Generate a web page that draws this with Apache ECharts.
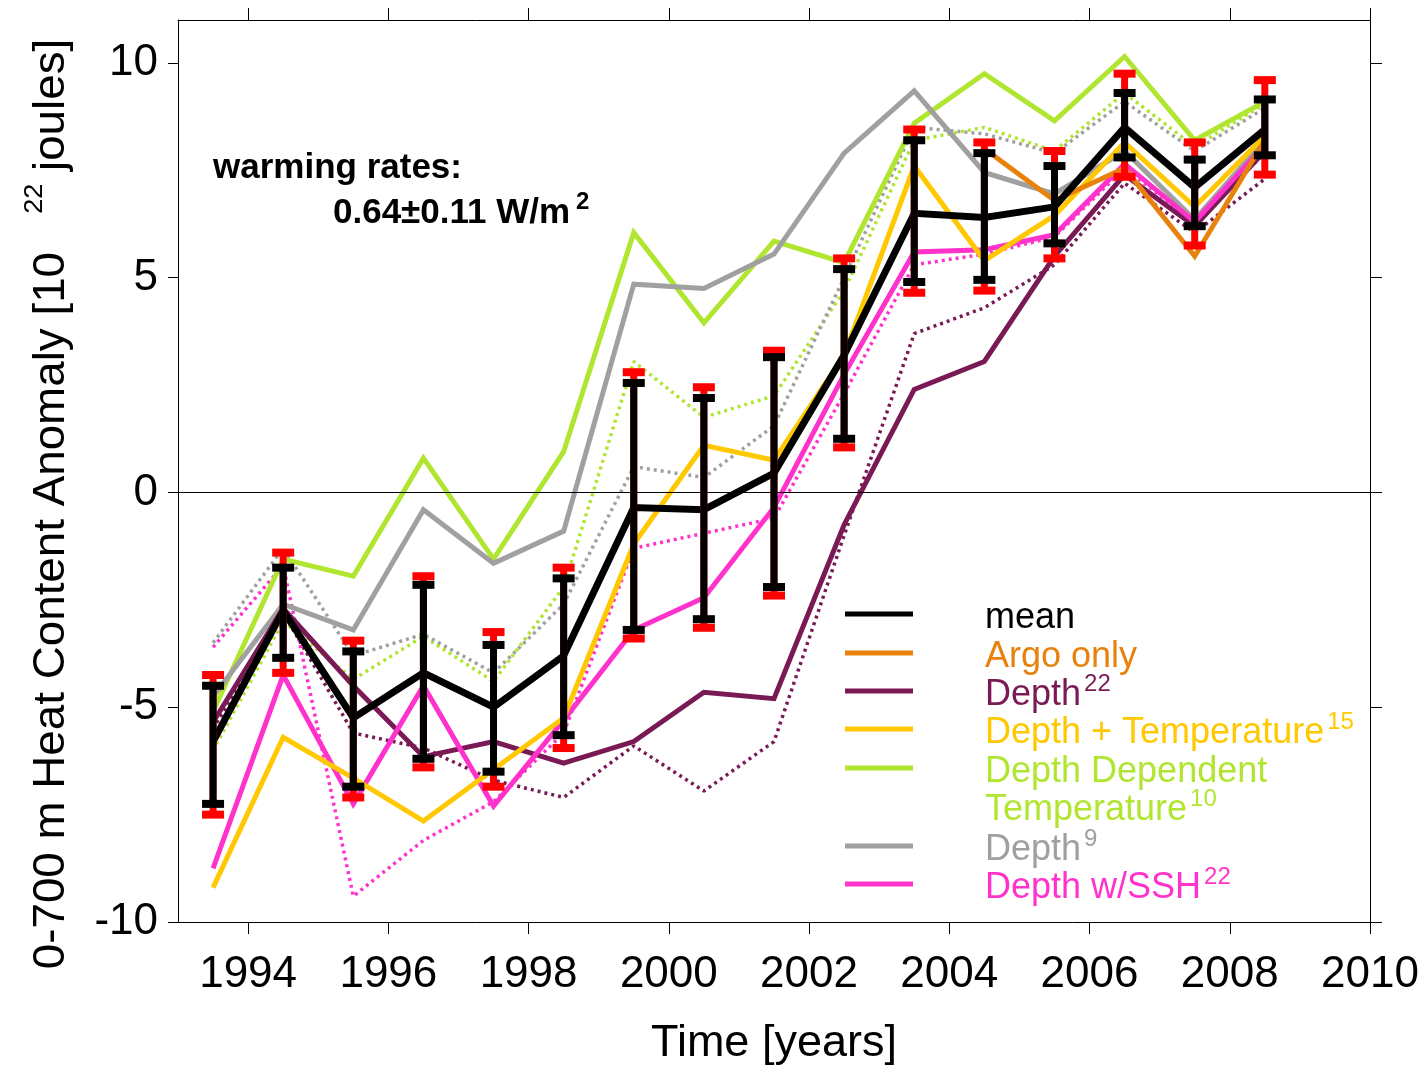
<!DOCTYPE html>
<html><head><meta charset="utf-8">
<script src="https://cdn.jsdelivr.net/npm/echarts@6/dist/echarts.min.js"></script>
<style>html,body{margin:0;padding:0;background:#fff}#c{width:1426px;height:1071px}</style>
</head><body><div id="c"></div>
<script>
// ---------- data ----------
const years = [1993.5,1994.5,1995.5,1996.5,1997.5,1998.5,1999.5,2000.5,2001.5,2002.5,2003.5,2004.5,2005.5,2006.5,2007.5,2008.5];
const xTicks = [1994,1996,1998,2000,2002,2004,2006,2008,2010];
const yTicks = [-10,-5,0,5,10];

const meanVals   = [-5.8,-2.75,-5.25,-4.2,-5.0,-3.8,-0.35,-0.4,0.45,3.2,6.5,6.4,6.65,8.5,7.1,8.45];
const errLowBlack  = [-7.25,-3.85,-6.85,-6.2,-6.5,-5.65,-3.2,-2.95,-2.2,1.25,4.9,4.95,5.8,7.8,6.2,7.85];
const errHighBlack = [-4.5,-1.75,-3.7,-2.15,-3.55,-2.0,2.55,2.2,3.15,5.2,8.2,7.9,7.6,9.3,7.75,9.15];
const errLowRed    = [-7.5,-4.2,-7.1,-6.4,-6.85,-5.95,-3.4,-3.15,-2.4,1.05,4.65,4.7,5.45,7.35,5.75,7.4];
const errHighRed   = [-4.25,-1.4,-3.45,-1.95,-3.25,-1.75,2.8,2.45,3.3,5.45,8.45,8.15,7.95,9.75,8.15,9.6];

const argoOnly   = [null,null,null,null,null,null,null,null,null,null,null,8.0,6.8,7.55,5.5,8.2];
const depth22    = [-5.35,-2.7,-4.5,-6.15,-5.8,-6.3,-5.8,-4.65,-4.8,-0.75,2.4,3.05,5.5,7.4,6.2,7.95];
const depthTemp15= [-9.2,-5.7,-6.65,-7.65,-6.45,-5.25,-1.2,1.1,0.75,3.2,7.6,5.4,6.45,8.15,6.65,8.3];
const ddt10      = [-5.1,-1.55,-1.95,0.8,-1.55,0.95,6.05,3.95,5.85,5.35,8.6,9.75,8.65,10.15,8.2,9.1];
const depth9     = [-4.75,-2.6,-3.2,-0.4,-1.65,-0.9,4.85,4.75,5.55,7.9,9.35,7.45,6.95,7.95,6.35,8.2];
const ssh22      = [-8.75,-4.25,-7.25,-4.5,-7.3,-5.3,-3.2,-2.45,-0.35,2.75,5.6,5.65,6.0,7.65,6.3,8.1];

// dotted companions
const ddt10Dot   = [-6.0,-3.0,-4.35,-3.35,-4.4,-2.2,3.05,1.75,2.25,4.7,8.2,8.5,7.95,9.3,8.05,9.05];
const depth9Dot  = [-3.5,-1.3,-3.8,-3.3,-4.2,-2.6,0.6,0.35,1.55,5.0,8.5,8.35,7.9,9.1,7.95,8.95];
const depth22Dot = [-5.5,-2.8,-5.6,-5.95,-6.7,-7.1,-5.9,-6.95,-5.8,-1.0,3.7,4.3,5.3,7.2,6.05,7.3];
const ssh22Dot   = [-3.6,-1.7,-9.4,-8.1,-7.2,-5.6,-1.3,-0.95,-0.6,2.3,5.3,5.55,5.95,7.55,6.3,7.9];

// ---------- styles ----------
const C = {
  mean:'#000000', argo:'#E8820C', d22:'#7A1A55', dt:'#FFC800',
  ddt:'#B0E530', d9:'#A0A0A0', ssh:'#FF33CC'
};
const FONT = 'Liberation Sans';

const pairs = arr => years.map((x,i)=>[x, arr[i]]);
function solid(name, arr, color, width, z){
  return {type:'line', name, data:pairs(arr), showSymbol:false, symbol:'none', connectNulls:false,
    lineStyle:{color, width, cap:'butt', join:'miter'}, itemStyle:{color}, z, silent:true};
}
function dotted(name, arr, color, z){
  return {type:'line', name, data:pairs(arr), showSymbol:false, symbol:'none',
    lineStyle:{color, width:3.5, type:[3,4], cap:'butt'}, itemStyle:{color}, z, silent:true};
}
function errBars(name, lo, hi, color, z){
  return {
    type:'custom', name, z, silent:true,
    data: years.map((x,i)=>[x, lo[i], hi[i]]),
    renderItem(params, api){
      const x = api.value(0);
      const pL = api.coord([x, api.value(1)]);
      const pH = api.coord([x, api.value(2)]);
      const w = 22, h = 8;
      return {type:'group', children:[
        {type:'line', shape:{x1:pH[0], y1:pH[1], x2:pL[0], y2:pL[1]}, style:{stroke:color, lineWidth:7}},
        {type:'rect', shape:{x:pH[0]-w/2, y:pH[1]-h/2, width:w, height:h}, style:{fill:color}},
        {type:'rect', shape:{x:pL[0]-w/2, y:pL[1]-h/2, width:w, height:h}, style:{fill:color}}
      ]};
    }
  };
}

const axisLineStyle = {color:'#000', width:1};

const legendRows = [
  {y:614, color:C.mean, text:'{a|mean}', line:true},
  {y:653, color:C.argo, text:'{a|Argo only}', line:true},
  {y:691, color:C.d22, text:'{a|Depth}{s|22}', line:true},
  {y:729, color:C.dt, text:'{a|Depth + Temperature}{s|15}', line:true},
  {y:768, color:C.ddt, text:'{a|Depth Dependent}', line:true},
  {y:806, color:C.ddt, text:'{a|Temperature}{s|10}', line:false},
  {y:846, color:C.d9, text:'{a|Depth}{s|9}', line:true},
  {y:884, color:C.ssh, text:'{a|Depth w/SSH}{s|22}', line:true}
];
const legendRich = {
  a:{fontSize:36, fontFamily:FONT, lineHeight:46},
  s:{fontSize:24, fontFamily:FONT, lineHeight:24, verticalAlign:'top', padding:[0,0,0,3]}
};
const graphics = [];
legendRows.forEach(r=>{
  if (r.line) graphics.push({type:'line', shape:{x1:845, y1:r.y, x2:913, y2:r.y}, style:{stroke:r.color, lineWidth:5}, silent:true});
  graphics.push({type:'text', x:985, y:r.y+4, silent:true,
    style:{text:r.text, fill:r.color, rich:legendRich, verticalAlign:'middle', align:'left'}});
});
// annotation
graphics.push({type:'text', x:213, y:168, silent:true,
  style:{text:'warming rates:', fill:'#000', font:'bold 35px "Liberation Sans"', verticalAlign:'middle'}});
graphics.push({type:'text', x:333, y:213, silent:true,
  style:{text:'{b|0.64±0.11 W/m}{s|2}', fill:'#000', verticalAlign:'middle',
    rich:{b:{fontSize:35, fontWeight:'bold', fontFamily:FONT, lineHeight:46},
          s:{fontSize:24, fontWeight:'bold', fontFamily:FONT, lineHeight:24, verticalAlign:'top', padding:[0,0,0,6]}}}});
// y axis title
graphics.push({type:'text', x:52, y:504, rotation:Math.PI/2, scaleX:1.04, silent:true,
  style:{text:'{a|0-700 m Heat Content Anomaly [10   }{s|22}{a| joules]}', fill:'#000', align:'center', verticalAlign:'middle',
    rich:{a:{fontSize:44, fontFamily:FONT, lineHeight:60}, s:{fontSize:26, fontFamily:FONT, lineHeight:26, verticalAlign:'top'}}}});

const chart = echarts.init(document.getElementById('c'), null, {renderer:'canvas'});
chart.setOption({
  animation:false,
  backgroundColor:'#ffffff',
  grid:{left:178, right:56, top:20, bottom:146, containLabel:false},
  xAxis:[
    {type:'value', min:1993, max:2010, position:'bottom',
     axisLine:{show:true, onZero:false, lineStyle:axisLineStyle},
     axisTick:{show:true, length:12, customValues:xTicks, lineStyle:axisLineStyle},
     axisLabel:{customValues:xTicks, fontSize:44, fontFamily:FONT, color:'#000', margin:31,
       formatter: v => String(v)},
     splitLine:{show:false},
     name:'Time [years]', nameLocation:'middle', nameGap:99,
     nameTextStyle:{fontSize:45, fontFamily:FONT, color:'#000'}},
    {type:'value', min:1993, max:2010, position:'top',
     axisLine:{show:true, onZero:false, lineStyle:axisLineStyle},
     axisTick:{show:true, length:12, customValues:xTicks, lineStyle:axisLineStyle},
     axisLabel:{show:false}, splitLine:{show:false}}
  ],
  yAxis:[
    {type:'value', min:-10, max:11, interval:5, position:'left',
     axisLine:{show:true, onZero:false, lineStyle:axisLineStyle},
     axisTick:{show:true, length:10, customValues:yTicks, lineStyle:axisLineStyle},
     axisLabel:{customValues:yTicks, fontSize:44, fontFamily:FONT, color:'#000', margin:20,
       formatter: v => String(v)},
     splitLine:{show:false}},
    {type:'value', min:-10, max:11, interval:5, position:'right',
     axisLine:{show:true, onZero:false, lineStyle:axisLineStyle},
     axisTick:{show:true, length:12, customValues:yTicks, lineStyle:axisLineStyle},
     axisLabel:{show:false}, splitLine:{show:false}}
  ],
  series:[
    Object.assign(dotted('Depth Dependent Temperature (alt)', ddt10Dot, C.ddt, 2), {
      markLine:{silent:true, symbol:['none','none'], label:{show:false},
        lineStyle:{color:'#000', width:1, type:'solid'}, data:[{yAxis:0}]}}),
    dotted('Depth 9 (alt)', depth9Dot, C.d9, 2),
    dotted('Depth 22 (alt)', depth22Dot, C.d22, 2),
    dotted('Depth w/SSH 22 (alt)', ssh22Dot, C.ssh, 2),
    solid('Depth Dependent Temperature', ddt10, C.ddt, 5, 3),
    solid('Depth 9', depth9, C.d9, 5, 3),
    solid('Depth 22', depth22, C.d22, 5, 3),
    solid('Depth w/SSH 22', ssh22, C.ssh, 5, 3),
    solid('Depth + Temperature', depthTemp15, C.dt, 5, 3),
    solid('Argo only', argoOnly, C.argo, 5, 3),
    solid('mean', meanVals, C.mean, 7, 4),
    errBars('mean error (red)', errLowRed, errHighRed, '#FF0000', 5),
    errBars('mean error', errLowBlack, errHighBlack, '#000000', 6)
  ],
  graphic: graphics
});
</script></body></html>
